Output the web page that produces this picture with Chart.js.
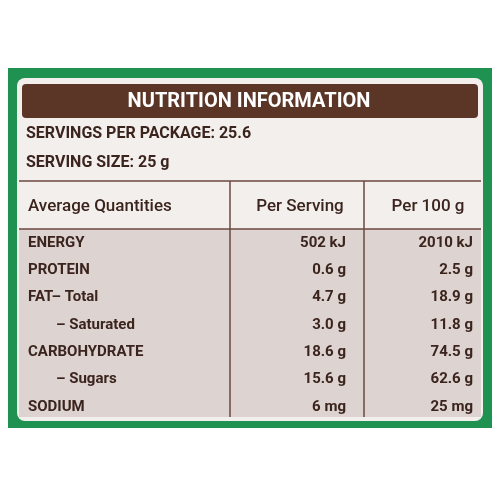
<!DOCTYPE html>
<html><head><meta charset="utf-8">
<script src="https://cdn.jsdelivr.net/npm/chart.js@4"></script>
<style>html,body{margin:0;padding:0;background:#fff}#w{width:500px;height:500px}</style>
</head><body><div id="w"><canvas id="c"></canvas></div>
<script>
const title = "NUTRITION INFORMATION";
const infoLines = ["SERVINGS PER PACKAGE: 25.6", "SERVING SIZE: 25 g"];
const columnHeaders = ["Average Quantities", "Per Serving", "Per 100 g"];
const categories = ["ENERGY", "PROTEIN", "FAT\u2013 Total", "  \u2013 Saturated", "CARBOHYDRATE", "  \u2013 Sugars", "SODIUM"];
const perServing = ["502 kJ", "0.6 g", "4.7 g", "3.0 g", "18.6 g", "15.6 g", "6 mg"];
const per100g = ["2010 kJ", "2.5 g", "18.9 g", "11.8 g", "74.5 g", "62.6 g", "25 mg"];
const indent = [0, 0, 0, 1, 0, 1, 0];

const labelPlugin = {
  id: 'label',
  afterDraw(chart) {
    const ctx = chart.ctx;
    ctx.save();
    const rr = (x, y, w, h, r, fill) => { ctx.beginPath(); ctx.roundRect(x, y, w, h, r); ctx.fillStyle = fill; ctx.fill(); };
    ctx.fillStyle = '#fff'; ctx.fillRect(0, 0, 500, 500);
    ctx.fillStyle = '#1f9150'; ctx.fillRect(8, 68, 484, 360);
    rr(17, 78, 466, 343, 8, '#f3efec');
    rr(22, 84, 456, 34, 4, '#5b3627');
    ctx.fillStyle = '#ddd3d0'; ctx.fillRect(19, 229, 462, 188);
    const ink = '#3b241d';
    ctx.strokeStyle = '#6b4a40'; ctx.lineWidth = 1.5;
    ctx.beginPath();
    ctx.moveTo(19, 181); ctx.lineTo(481, 181);
    ctx.moveTo(19, 229); ctx.lineTo(481, 229);
    ctx.moveTo(230, 181); ctx.lineTo(230, 417);
    ctx.moveTo(364, 181); ctx.lineTo(364, 417);
    ctx.stroke();
    ctx.textBaseline = 'middle';
    ctx.font = 'bold 20px Roboto';
    ctx.fillStyle = '#fff'; ctx.textAlign = 'center';
    ctx.fillText(title, 249, 102);
    ctx.fillStyle = ink; ctx.textAlign = 'left';
    ctx.font = 'bold 16px Roboto';
    infoLines.forEach((t, i) => ctx.fillText(t, 26, 134 + i * 29));
    ctx.font = '500 17px Roboto';
    ctx.fillText(columnHeaders[0], 28, 207);
    ctx.textAlign = 'center';
    ctx.fillText(columnHeaders[1], 300, 207);
    ctx.fillText(columnHeaders[2], 428, 207);
    ctx.font = 'bold 15px Roboto';
    categories.forEach((c, i) => {
      const y = 243 + i * 27.3;
      ctx.textAlign = 'left';
      ctx.fillText(c.trim(), indent[i] ? 56 : 28, y);
      ctx.textAlign = 'right';
      ctx.fillText(perServing[i], 346, y);
      ctx.fillText(per100g[i], 473, y);
    });
    ctx.restore();
  }
};
new Chart(document.getElementById('c'), {
  type: 'bar',
  data: { labels: categories, datasets: [{ data: [] }] },
  options: { responsive: true, maintainAspectRatio: false, animation: false,
    plugins: { legend: { display: false }, tooltip: { enabled: false } },
    scales: { x: { display: false }, y: { display: false } } },
  plugins: [labelPlugin]
});
</script></body></html>
